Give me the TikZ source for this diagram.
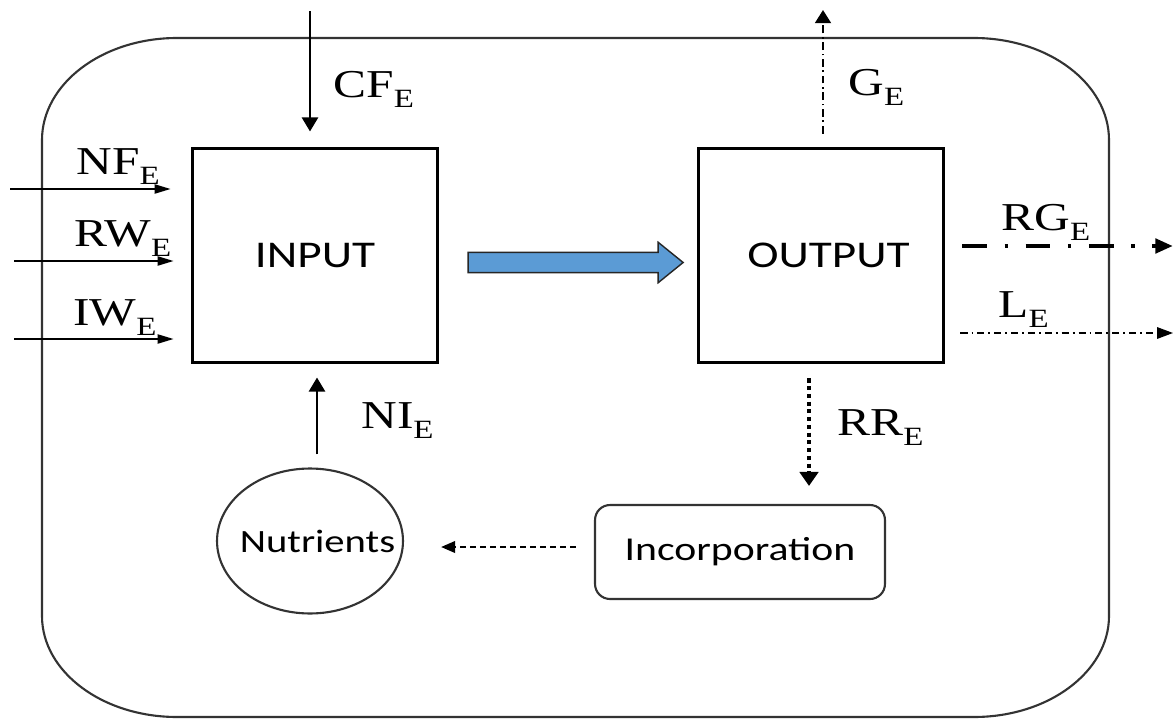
\documentclass[tikz,border=0pt]{standalone}
\usepackage{fontspec}
\usetikzlibrary{arrows.meta, positioning, shapes.geometric, shapes.arrows}
\newfontfamily\serifo[FakeStretch=1.25]{Liberation Serif}
\newfontfamily\sanso[FakeStretch=1.25]{Carlito}
\definecolor{azulflujo}{HTML}{5B9BD5}
\definecolor{grismarco}{HTML}{333333}
\newcommand{\subE}{\raisebox{-0.26em}{\fontsize{15}{15}\selectfont E}}
\tikzset{
  cajaBase/.style={
    draw=black, line width=1.7pt, inner sep=0pt,
    minimum width=4.92cm, minimum height=4.3cm,
    font=\sanso\fontsize{21.5}{24}\selectfont
  },
  cajaRedonda/.style={
    draw=grismarco, line width=1.2pt, rounded corners=0.3cm,
    minimum width=5.8cm, minimum height=1.88cm,
    font=\sanso\fontsize{19}{22}\selectfont
  },
  elipseNutri/.style={
    ellipse, draw=grismarco, line width=1.2pt, inner sep=0pt,
    minimum width=3.72cm, minimum height=2.9cm,
    font=\sanso\fontsize{18.5}{21}\selectfont
  },
  flujoAzul/.style={
    single arrow, draw=black!85, line width=0.8pt, fill=azulflujo,
    inner xsep=0pt, inner ysep=0.19cm, minimum height=4.3cm,
    single arrow head extend=0.2cm, single arrow tip angle=78
  },
  marco/.style={draw=grismarco, line width=1.2pt},
  etiqueta/.style={anchor=base west, inner sep=0pt, font=\serifo\fontsize{22.5}{25}\selectfont},
  flecha/.style={-{Triangle[length=8pt, width=9pt]}, line width=1.7pt},
  flechaFina/.style={-{Triangle[length=9pt, width=5.2pt]}, line width=0.9pt},
  flechaPuntoRaya/.style={-{Triangle[length=7.5pt, width=9pt]}, line width=1.4pt,
    dash pattern=on 4.5pt off 2pt on 1pt off 2pt},
  flechaGruesa/.style={-{Triangle[length=10pt, width=8pt]}, line width=2.8pt,
    dash pattern=on 14pt off 10pt on 2pt off 10pt},
  flechaFinaPunto/.style={-{Triangle[length=9pt, width=6.5pt]}, line width=0.9pt,
    dash pattern=on 4pt off 2.3pt on 1pt off 2.3pt},
  flechaPuntos/.style={-{Triangle[length=8pt, width=10.5pt]}, line width=2.4pt,
    dash pattern=on 2.3pt off 2.1pt},
  flechaDiscontinua/.style={-{Triangle[length=8pt, width=6.5pt]}, line width=1.4pt,
    dash pattern=on 3.4pt off 2.3pt},
}

\begin{document}
\begin{tikzpicture}[x=0.02cm, y=-0.02cm]
  \useasboundingbox (0,0) rectangle (1174,720);

  % Marco exterior
  \draw[marco] (177,38) -- (974,38) .. controls (1048.5,38) and (1109,83.7) .. (1109,140)
    -- (1109,616) .. controls (1109,671.8) and (1048.5,717) .. (974,717)
    -- (177,717) .. controls (102.5,717) and (42,671.8) .. (42,616)
    -- (42,140) .. controls (42,83.7) and (102.5,38) .. cycle;

  % Cajas
  \node[cajaBase] (inbox) at (315,255.5) {INPUT};
  \node[cajaBase] (outbox) at (821,255.5) {\hspace*{0.3cm}OUTPUT};
  \node[elipseNutri] (nutri) at (310,541) {\makebox[0pt]{\hspace*{0.3cm}Nutrients}};
  \node[cajaRedonda] (incorp) at (740,552) {Incorporation};
  \node[flujoAzul, right=0.56cm of inbox.east, yshift=-0.14cm] (flujo) {};

  % Entradas
  \coordinate (cfIni) at (310,11);
  \coordinate (nfIni) at (10,189);
  \coordinate (rwIni) at (14,261);
  \coordinate (iwIni) at (14,339);
  \draw[flecha, shorten >=0.3cm] (cfIni) -- (inbox.north -| cfIni);
  \draw[flechaFina, shorten >=0.4cm] (nfIni) -- (inbox.west |- nfIni);
  \draw[flechaFina, shorten >=0.34cm] (rwIni) -- (inbox.west |- rwIni);
  \draw[flechaFina, shorten >=0.34cm] (iwIni) -- (inbox.west |- iwIni);
  \draw[flecha, shorten <=0.26cm, shorten >=0.26cm] ([xshift=0.14cm]nutri.north) -- ([xshift=0.14cm]nutri.north |- inbox.south);

  % Salidas
  \coordinate (gFin) at (823,10);
  \coordinate (rgFin) at (1173,246);
  \coordinate (lFin) at (1173,333);
  \draw[flechaPuntoRaya, shorten <=0.26cm] (outbox.north -| gFin) -- (gFin);
  \draw[flechaGruesa, shorten <=0.34cm] (outbox.east |- rgFin) -- (rgFin);
  \draw[flechaFinaPunto, shorten <=0.3cm] (outbox.east |- lFin) -- (lFin);
  \draw[flechaPuntos, shorten <=0.28cm, shorten >=0.36cm] ([xshift=-0.24cm]outbox.south) -- ([xshift=-0.24cm]outbox.south |- incorp.north);
  \draw[flechaDiscontinua, shorten <=0.36cm, shorten >=0.74cm] ([yshift=0.1cm]incorp.west) -- ([yshift=0.1cm]incorp.west -| nutri.east);

  % Etiquetas
  \node[etiqueta] (cf) at (333,97) {CF\subE};
  \node[etiqueta] (nf) at (76,174) {NF\subE};
  \node[etiqueta] (rw) at (74,246) {RW\subE};
  \node[etiqueta] (iw) at (73,325) {IW\subE};
  \node[etiqueta] (ni) at (361,428) {NI\subE};
  \node[etiqueta] (g) at (848,95) {G\subE};
  \node[etiqueta] (rg) at (1001,230) {RG\subE};
  \node[etiqueta] (l) at (998,317) {L\subE};
  \node[etiqueta] (rr) at (837,435) {RR\subE};
\end{tikzpicture}
\end{document}
